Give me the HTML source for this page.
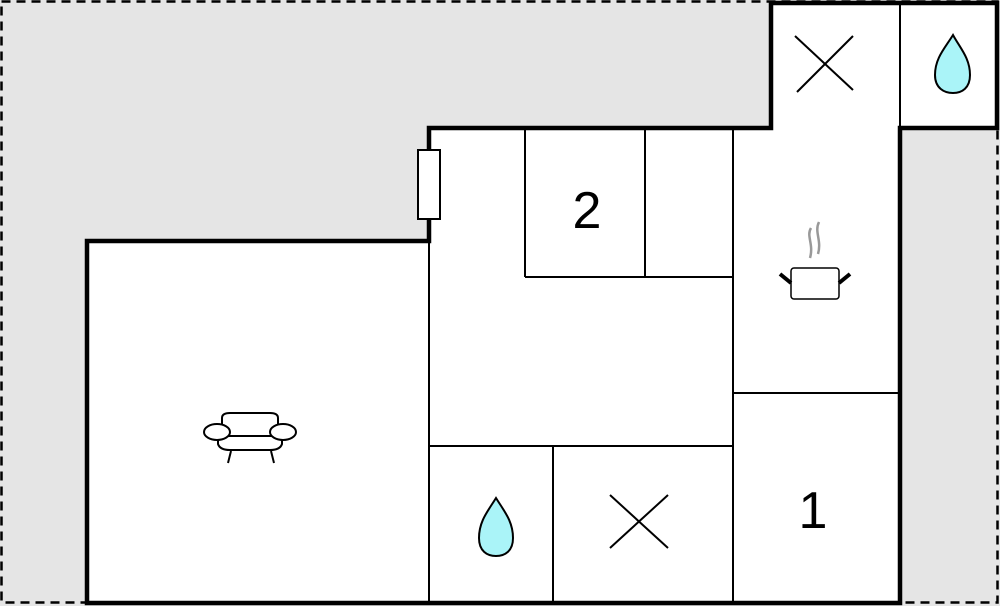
<!DOCTYPE html>
<html><head><style>body{margin:0;background:#fff}svg{display:block}</style></head><body>
<svg width="1000" height="606" viewBox="0 0 1000 606" xmlns="http://www.w3.org/2000/svg">
<rect x="0" y="0" width="1000" height="606" fill="#e5e5e5"/>
<rect x="1.5" y="1.5" width="996" height="601" fill="none" stroke="#000" stroke-width="2.5" stroke-dasharray="9,6"/>
<path d="M771,3 H997 V128 H900 V603 H87 V241 H429 V128 H771 Z" fill="#fff"/>
<g stroke="#000" stroke-width="2" fill="none">
<line x1="900" y1="3" x2="900" y2="128"/>
<line x1="525" y1="128" x2="525" y2="277"/>
<line x1="645" y1="128" x2="645" y2="277"/>
<line x1="525" y1="277" x2="733" y2="277"/>
<line x1="733" y1="128" x2="733" y2="603"/>
<line x1="733" y1="393" x2="900" y2="393"/>
<line x1="429" y1="446" x2="733" y2="446"/>
<line x1="429" y1="241" x2="429" y2="603"/>
<line x1="553" y1="446" x2="553" y2="603"/>
</g>
<path d="M771,128 V3 H997 V128 H900 V603 H87 V241 H429 V128 Z" fill="none" stroke="#000" stroke-width="4.5"/>
<rect x="418" y="150" width="22" height="69" fill="#fff" stroke="#000" stroke-width="2"/>
<g stroke="#000" stroke-width="2">
<line x1="795" y1="36" x2="853" y2="90"/><line x1="853" y1="36" x2="797" y2="92"/>
<line x1="610" y1="495" x2="668" y2="548"/><line x1="668" y1="495" x2="610" y2="548"/>
</g>
<path d="M953,35 C945,48 935,58 935,75 C935,88 944,93 953,93 C962,93 970,88 970,75 C970,58 960,48 953,35 Z" fill="#aaf4f8" stroke="#000" stroke-width="2"/>
<path d="M496,498 C488,511 479,521 479,538 C479,551 487,556 496,556 C505,556 513,551 513,538 C513,521 504,511 496,498 Z" fill="#aaf4f8" stroke="#000" stroke-width="2"/>
<text x="587" y="228" font-family="Liberation Sans, sans-serif" font-size="52" text-anchor="middle">2</text>
<text x="813" y="528" font-family="Liberation Sans, sans-serif" font-size="52" text-anchor="middle">1</text>
<g fill="none">
<path d="M811,228 C806,236 814,244 810,258 M819,222 C814,232 822,240 818,254" stroke="#999" stroke-width="2.5"/>
<rect x="791" y="268" width="48" height="31" rx="3" stroke="#000" stroke-width="1.5"/>
<line x1="780" y1="274" x2="791" y2="283" stroke="#000" stroke-width="4"/>
<line x1="850" y1="274" x2="839" y2="283" stroke="#000" stroke-width="4"/>
</g>
<g fill="#fff" stroke="#000" stroke-width="2">
<path d="M222,425 V418 Q222,413 230,413 H270 Q278,413 278,418 V425"/>
<path d="M218,438 V444 Q220,450 230,450 H270 Q280,450 282,444 V438"/>
<line x1="224" y1="436" x2="276" y2="436"/>
<ellipse cx="217" cy="432" rx="13" ry="8"/>
<ellipse cx="283" cy="432" rx="13" ry="8"/>
<line x1="231" y1="451" x2="228" y2="463"/><line x1="271" y1="451" x2="274" y2="463"/>
</g>
</svg>
</body></html>
